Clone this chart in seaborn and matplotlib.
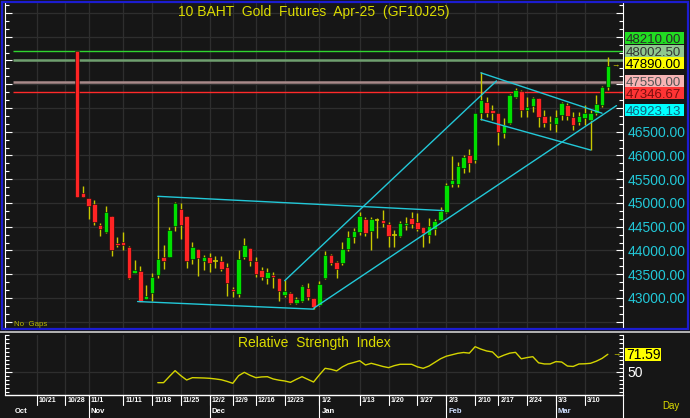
import matplotlib
matplotlib.use("Agg")
import matplotlib.pyplot as plt
import matplotlib.transforms as mtransforms
from matplotlib.patches import Rectangle
from matplotlib.lines import Line2D
from matplotlib.ticker import MultipleLocator, FuncFormatter
import numpy as np
import pandas as pd
import seaborn as sns

# daily bars, index 0 = first bar (10/30)
opens = [48210, 45217, 45098, 44979, 44537, 44396, 44733, 44151, 44172, 44067,
         43533, 43568, 42986, 43099, 43484, 43863, 43870, 44516, 44873, 44733,
         43821, 44031, 43785, 43870, 43779, 43779, 43659, 43183, 43084, 43870,
         44046, 43785, 43589, 43428, 43484, 43414, 43063, 43099, 42901, 42943,
         43217, 42994, 42853, 43421, 43905, 43758, 43737, 44031, 44284, 44389,
         44663, 44410, 44635, 44642, 44558, 44326, 44305, 44537, 44684, 44600,
         44495, 44326, 44452, 44642, 44810, 45400, 45400, 45737, 46010, 45905,
         46894, 47126, 46957, 46894, 46473, 46684, 47231, 47357, 46957, 47042,
         47210, 46831, 46684, 46663, 46852, 47063, 46810, 46705, 46789, 46747,
         46894, 47063, 47442]
highs = [48210, 45365, 45110, 45063, 44585, 44937, 44733, 44290, 44396, 44101,
         43800, 43674, 43274, 43519, 45133, 44116, 44501, 45027, 45006, 44733,
         44172, 44031, 43905, 43941, 43884, 43884, 43743, 43238, 44010, 44256,
         44046, 43870, 43659, 43625, 43554, 43414, 43379, 43133, 43014, 43274,
         43322, 42994, 43365, 43990, 43930, 43780, 44179, 44400, 44473, 44810,
         44700, 44700, 44680, 44852, 44600, 44430, 44620, 44705, 44810, 44790,
         44495, 44684, 44663, 44915, 45420, 45990, 45863, 46010, 46136, 46894,
         47750, 47231, 47063, 46894, 46790, 47294, 47420, 47378, 47231, 47231,
         47210, 46957, 46831, 46957, 47126, 47105, 46915, 46915, 47063, 46957,
         47273, 47463, 48073]
lows = [45130, 45120, 44656, 44537, 44311, 44361, 43884, 44080, 44010, 43393,
        43533, 42922, 42972, 42943, 43428, 43604, 43870, 44417, 44236, 43638,
        43709, 43463, 43589, 43554, 43625, 43575, 43042, 43014, 43014, 43821,
        43674, 43449, 43379, 43295, 43204, 42937, 43014, 42874, 42874, 42922,
        42958, 42762, 42832, 43400, 43700, 43421, 43700, 43990, 44158, 44326,
        44300, 44010, 44260, 44495, 44073, 44070, 44280, 44431, 44473, 44400,
        44073, 44158, 44326, 44620, 44790, 45337, 45337, 45631, 45653, 45840,
        46747, 46810, 46747, 46220, 46368, 46660, 47200, 46810, 46810, 46915,
        46600, 46600, 46536, 46494, 46747, 46747, 46536, 46642, 46642, 46115,
        46852, 47021, 47378]
closes = [45130, 45120, 44943, 44593, 44452, 44810, 44010, 44122, 44116, 43428,
          43589, 42922, 43042, 43435, 43821, 43785, 44431, 44993, 44537, 43785,
          44067, 43849, 43870, 43730, 43779, 43604, 43309, 43147, 43821, 44116,
          43785, 43505, 43435, 43554, 43449, 43154, 43154, 42901, 42979, 43253,
          43014, 42804, 43295, 43905, 43737, 43610, 44031, 44284, 44410, 44726,
          44368, 44663, 44635, 44579, 44305, 44326, 44579, 44579, 44558, 44452,
          44368, 44516, 44621, 44831, 45379, 45484, 45779, 45968, 45842, 46894,
          47168, 46894, 46894, 46494, 46642, 47273, 47378, 46957, 47021, 47210,
          46810, 46684, 46705, 46810, 47105, 46831, 46642, 46831, 46894, 46894,
          47084, 47442, 47890]

# 14-day RSI, first value at bar 14
rsi_start = 14
rsi = [36.4, 36.4, 44.0, 51.3, 45.0, 39.7, 42.6, 42.4, 42.2, 41.8,
       41.0, 40.0, 38.0, 35.6, 45.0, 49.2, 45.5, 42.6, 43.5, 43.8,
       41.0, 39.5, 38.5, 36.8, 40.5, 43.8, 40.5, 37.2, 46.0, 54.2,
       53.0, 51.0, 56.0, 59.6, 61.5, 63.6, 58.3, 60.4, 58.5, 56.5,
       55.0, 57.5, 59.2, 59.2, 59.2, 56.0, 54.2, 57.0, 61.5, 66.0,
       69.2, 71.0, 72.8, 73.8, 73.0, 81.0, 78.0, 75.7, 74.5, 67.5,
       70.5, 73.0, 74.0, 66.0, 67.5, 68.6, 61.0, 59.6, 59.6, 62.5,
       62.0, 57.0, 56.5, 59.6, 59.8, 60.4, 63.0, 66.5, 71.59]

week_pos = [-7, -2, 2, 8, 13, 18, 23, 27, 31, 36, 42, 49, 54, 59, 64, 69, 73, 78, 83, 88]
week_labels = ["10/21", "10/28", "11/1", "11/11", "11/18", "11/25", "12/2", "12/9",
               "12/16", "12/23", "1/2", "1/13", "1/20", "1/27", "2/3", "2/10",
               "2/17", "2/24", "3/3", "3/10"]
month_pos = [2, 23, 42, 64, 83]
month_labels = ["Nov", "Dec", "Jan", "Feb", "Mar"]

# horizontal levels
level_values = [48210.00, 48002.50, 47550.00, 47346.67]
level_colors = ["#2fd42f", "#6f9f6f", "#a88a8a", "#ff2a2a"]
level_widths = [1.0, 1.8, 1.8, 1.0]

# trend lines, (bar, price) end points
trend_lines = [
    [(14, 45140), (63.5, 44840)],
    [(10.5, 42925), (41, 42765)],
    [(36, 43365), (72.7, 47570)],
    [(41, 42783), (93.5, 47050)],
    [(70, 47740), (91, 46890)],
    [(70, 46760), (89, 46115)],
]

# value tags on the right
tag_values = [48210.00, 48002.50, 47890.00, 47550.00, 47346.67, 46923.13]
tag_face = ["#22dd22", "#8fc88f", "#ffff00", "#f6b4b4", "#ff3434", "#00ffff"]
tag_text = ["#2a2a2a", "#333333", "#000000", "#555555", "#7a0f0f", "#14607a"]
tag_nudge = [12.5, 9.4, 2.7, 0.9, -1.5, 1.6]  # px up, keeps tags apart

sns.set_theme(style="dark")
plt.rcParams["font.family"] = ["Liberation Sans", "DejaVu Sans"]

BG = "#161616"
GRID = "#2e2e2e"
GREEN = "#00e000"
RED = "#ff2424"
WICK = "#c8c800"
CYAN = "#22c8d8"
YEL = "#dcdc00"
W, H = 690, 418


def rect(x0, y0, x1, y1):
    return [x0 / W, 1 - y1 / H, (x1 - x0) / W, (y1 - y0) / H]


def tag(axis, value, text, fc, tc, nudge=0.0, fs=9.5):
    # coloured box just right of the axis, 12.5 px tall
    yp = axis.transData.transform((0, value))[1] + nudge
    fig.add_artist(Rectangle((625 / W, (yp - 6.25) / H), 59 / W, 12.5 / H,
                             transform=fig.transFigure, fc=fc, ec="none"))
    fig.text(626 / W, (yp - 0.358 * fs * 100 / 72) / H, text, ha="left", va="baseline",
             fontsize=fs, color=tc)


fig = plt.figure(figsize=(6.9, 4.18), dpi=100, facecolor=BG)
ax = fig.add_axes(rect(5, 3, 623, 329))
ax2 = fig.add_axes(rect(5, 335, 623, 395), sharex=ax)
for a in (ax, ax2):
    a.set_facecolor(BG)
    for s in ("top", "bottom"):
        a.spines[s].set_visible(False)
    for s in ("left", "right"):
        a.spines[s].set_color("white")
        a.spines[s].set_linewidth(0.8)
    a.set_xticks(week_pos)
    a.tick_params(axis="x", length=0, labelbottom=False)
    a.grid(True, color=GRID, lw=0.9)
    a.tick_params(axis="y", which="both", left=True, right=True, direction="in",
                  colors="white", labelleft=False, labelright=True)
    a.tick_params(axis="y", which="major", length=5, width=0.8, pad=3)
    a.tick_params(axis="y", which="minor", length=3, width=0.8)

ax.set_xlim(-12.48, 94.63)
ax.set_ylim(42347, 49210)
ax.yaxis.set_major_locator(MultipleLocator(500))
ax.yaxis.set_minor_locator(MultipleLocator(500 / 3))
ax.yaxis.set_major_formatter(FuncFormatter(lambda v, p: f"{v:.2f}" if 42900 < v < 46800 else ""))
for t in ax.get_yticklabels():
    t.set_color(CYAN)
    t.set_fontsize(10)

# candles
df = pd.DataFrame({"open": opens, "high": highs, "low": lows, "close": closes})
df["x"] = np.arange(len(df))
doji = df["open"] == df["close"]
ax.vlines(df["x"], df["low"], df["high"], color=WICK, lw=1.0, zorder=3)
body = df[~doji]
ax.bar(body["x"], (body["close"] - body["open"]).abs(),
       bottom=body[["open", "close"]].min(axis=1), width=0.78,
       color=np.where(body["close"] > body["open"], GREEN, RED),
       edgecolor="#0a0a0a", linewidth=0.4, zorder=4)
dj = df[doji]
ax.hlines(dj["close"], dj["x"] - 0.4, dj["x"] + 0.4, color=WICK, lw=1.2, zorder=4)

# levels and trend lines
ax.hlines(level_values, -11.1, 94.63, colors=level_colors, linewidths=level_widths, zorder=2)
for seg in trend_lines:
    (x0, y0), (x1, y1) = seg
    ax.plot([x0, x1], [y0, y1], color=CYAN, lw=1.0, zorder=5)

tr = mtransforms.blended_transform_factory(ax.transAxes, ax.transData)
ax.annotate("→", xy=(0.987, closes[-1]), xycoords=tr, va="center", ha="center",
            fontsize=6, color=YEL)
ax.text(0.5, 1 - 9 / 326, "10 BAHT  Gold  Futures  Apr-25  (GF10J25)", transform=ax.transAxes,
        ha="center", va="center", fontsize=10, color=YEL)
ax.text(9 / 618, 5 / 326, "No  Gaps", transform=ax.transAxes, ha="left", va="center",
        fontsize=5.7, color="#b8b800")

# RSI
xr = np.arange(rsi_start, rsi_start + len(rsi))
sns.lineplot(x=xr, y=rsi, ax=ax2, color="#d4d400", lw=1.0)
ax2.set_ylim(21.1, 95.5)
ax2.set_yticks([50])
ax2.set_yticklabels(["50"], fontsize=10, color="white")
ax2.yaxis.set_minor_locator(MultipleLocator(5))
ax2.grid(True, which="major", color=GRID, lw=0.9)
tr2 = mtransforms.blended_transform_factory(ax2.transAxes, ax2.transData)
ax2.annotate("→", xy=(0.990, rsi[-1]), xycoords=tr2, va="center", ha="center",
             fontsize=6, color=YEL)
ax2.text(0.5, 1 - 8 / 60, "Relative  Strength  Index", transform=ax2.transAxes,
         ha="center", va="center", fontsize=10, color=YEL)

# value tags
for v, fc, tc, nd in zip(tag_values, tag_face, tag_text, tag_nudge):
    tag(ax, v, f"{v:.2f}", fc, tc, nd)
yp = ax2.transData.transform((0, rsi[-1]))[1]
fig.add_artist(Rectangle((625 / W, (yp - 6.25) / H), 36 / W, 12.5 / H,
                         transform=fig.transFigure, fc="#ffff00", ec="none"))
fig.text(626 / W, (yp - 0.358 * 10 * 100 / 72) / H, f"{rsi[-1]:.2f}", ha="left",
         va="baseline", fontsize=10, color="black")

# date strip under the RSI panel
td = mtransforms.blended_transform_factory(ax2.transData, ax2.transAxes)
r1, r2 = -10 / 60, -23 / 60
ax2.plot([0, 1], [0, 0], transform=ax2.transAxes, color="white", lw=1.0, clip_on=False)
ax2.plot([1, 1], [0, r2], transform=ax2.transAxes, color="white", lw=0.8, clip_on=False)
for p, lab in zip(week_pos, week_labels):
    ax2.plot([p, p], [0, r1], transform=td, color="white", lw=0.8, clip_on=False)
    ax2.annotate(lab, xy=(p, r1 / 2), xycoords=td, xytext=(1.5, 0), textcoords="offset points",
                 va="center", ha="left", fontsize=5, fontweight="bold", color="white",
                 annotation_clip=False)
ax2.annotate("Oct", xy=(0, r1 + (r2 - r1) / 2), xycoords=ax2.transAxes, xytext=(7, 0),
             textcoords="offset points", va="center", ha="left", fontsize=5.5,
             fontweight="bold", color="white", annotation_clip=False)
for p, lab in zip(month_pos, month_labels):
    ax2.plot([p, p], [0, r2], transform=td, color="white", lw=0.8, clip_on=False)
    ax2.annotate(lab, xy=(p, r1 + (r2 - r1) / 2), xycoords=td, xytext=(1.5, 0),
                 textcoords="offset points", va="center", ha="left", fontsize=5.5,
                 fontweight="bold", color="#cfe0ff" if lab in ("Feb", "Mar") else "white",
                 annotation_clip=False)
fig.text(671 / W, 1 - 406 / H, "Day", ha="center", va="center", fontsize=7, color=YEL)

# frames
fig.add_artist(Rectangle((1.5 / W, 1 - 329 / H), 686 / W, 327.5 / H, transform=fig.transFigure,
                         fill=False, ec="#1c1cd0", lw=1.6))
fig.add_artist(Line2D([0, 1], [1 - 332 / H] * 2, transform=fig.transFigure,
                      color="#b4b4b4", lw=1.4))

fig.savefig("out.png", dpi=100, facecolor=BG)
